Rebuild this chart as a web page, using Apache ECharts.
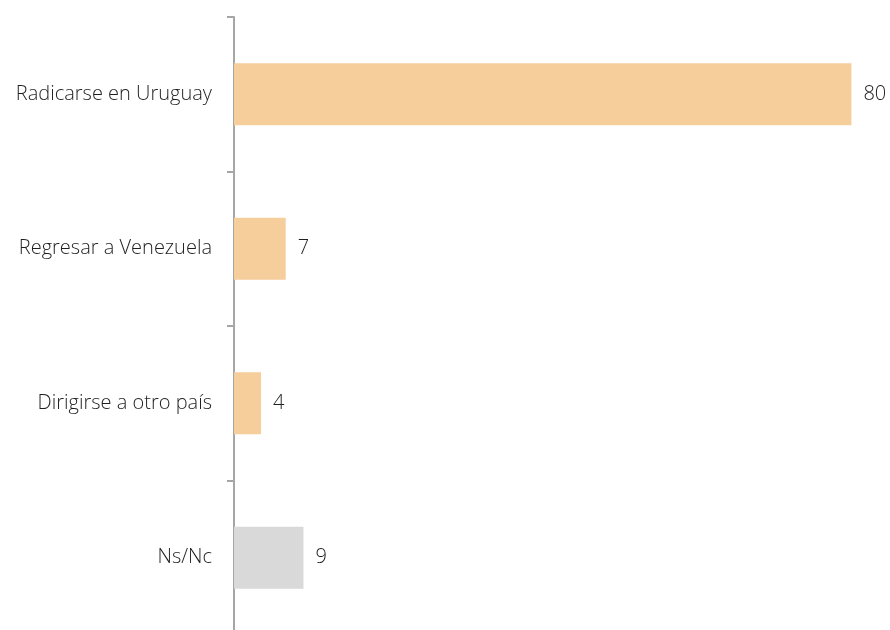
<!DOCTYPE html>
<html>
<head>
<meta charset="utf-8">
<script src="https://cdn.jsdelivr.net/npm/echarts@6/dist/echarts.min.js"></script>
<style>
  html, body { margin: 0; padding: 0; background: #fff; }
  #chart { width: 890px; height: 630px; }
</style>
</head>
<body>
<div id="chart"></div>
<script>
// categorias y valores (%)
var categories = ['Radicarse en Uruguay', 'Regresar a Venezuela', 'Dirigirse a otro país', 'Ns/Nc'];
var values = [80, 6.7, 3.5, 9];
var barColors = ['#F5CE9C', '#F5CE9C', '#F5CE9C', '#D9D9D9'];

var chart = echarts.init(document.getElementById('chart'));

var data = [];
for (var i = 0; i < values.length; i++) {
  data.push({ value: values[i], itemStyle: { color: barColors[i] } });
}

chart.setOption({
  animation: false,
  grid: {
    left: 234, width: 656, top: 17, height: 618,
    containLabel: false,
    outerBoundsMode: 'none'
  },
  xAxis: {
    type: 'value',
    min: 0,
    max: 85,
    show: false
  },
  yAxis: {
    type: 'category',
    inverse: true,
    data: categories,
    axisLine: { lineStyle: { color: '#A6A6A6', width: 2 } },
    axisTick: { show: true, length: 7, lineStyle: { color: '#A6A6A6', width: 2 } },
    axisLabel: {
      margin: 22,
      fontFamily: 'Open Sans',
      fontWeight: 300,
      fontSize: 20,
      color: '#1F1F1F'
    }
  },
  series: [{
    type: 'bar',
    data: data,
    barWidth: 62,
    label: {
      show: true,
      position: 'right',
      distance: 12,
      fontFamily: 'Open Sans',
      fontWeight: 300,
      fontSize: 20,
      color: '#1F1F1F',
      formatter: function (p) { return Math.round(p.value); }
    }
  }]
});

window.onresize = function () {
  chart.resize();
};
</script>
</body>
</html>
